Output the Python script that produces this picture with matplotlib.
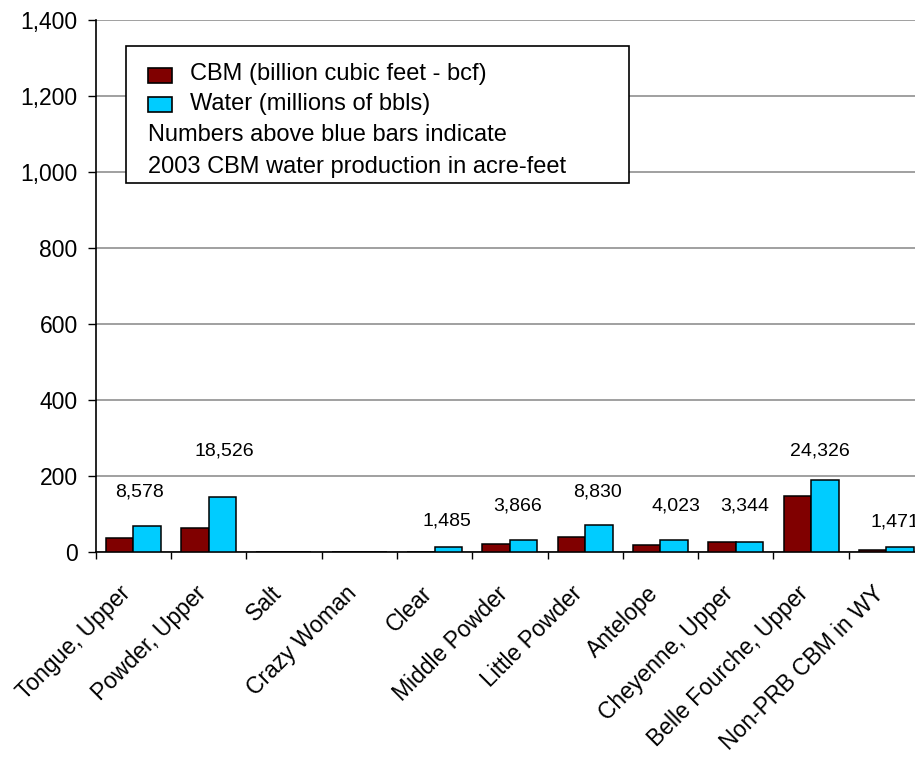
import matplotlib
matplotlib.use("Agg")
import matplotlib.pyplot as plt
from matplotlib.patches import Rectangle
from matplotlib.transforms import ScaledTranslation
import numpy as np

plt.rcParams["font.family"] = ["Liberation Sans", "DejaVu Sans"]

# ----------------------------------------------------------------------
# Data: CBM gas and produced water by drainage
# ----------------------------------------------------------------------
basins = ["Tongue, Upper", "Powder, Upper", "Salt", "Crazy Woman", "Clear",
          "Middle Powder", "Little Powder", "Antelope", "Cheyenne, Upper",
          "Belle Fourche, Upper", "Non-PRB CBM in WY"]
cbm_bcf = [37, 63, 0, 0, 0, 21, 40, 17, 26, 147, 3.5]
water_mmbbl = [68, 145, 0, 0, 12, 31, 69, 32, 26, 190, 12]

# acre-feet notes written above the blue bars (basin index, text)
acre_ft_idx = [0, 1, 4, 5, 6, 7, 8, 9, 10]
acre_ft_txt = ["8,578", "18,526", "1,485", "3,866", "8,830", "4,023",
               "3,344", "24,326", "1,471"]

# where each note sits (x offset from basin centre, height on y scale)
note_dx = [0.08, 0.21, 0.17, 0.10, 0.16, 0.21, 0.12, 0.12, 0.11]
note_y = [158, 264, 80, 120, 157, 120, 120, 264, 77]

CBM_COLOR = "#800000"
WATER_COLOR = "#00CCFF"

W, H = 915, 760
fig = plt.figure(figsize=(W / 100, H / 100), dpi=100)
ax = fig.add_axes([95.7 / W, 1 - 551.7 / H, 828.3 / W, 532 / H])

x = np.arange(len(basins))
bw = 0.365
ax.bar(x - bw / 2, cbm_bcf, bw, color=CBM_COLOR, edgecolor="black",
       linewidth=1.1, zorder=3)
ax.bar(x + bw / 2, water_mmbbl, bw, color=WATER_COLOR, edgecolor="black",
       linewidth=1.1, zorder=3)

for i, txt, dx, yy in zip(acre_ft_idx, acre_ft_txt, note_dx, note_y):
    ax.text(i + dx, yy, txt, ha="center", va="center", fontsize=14,
            zorder=4, clip_on=False)

ax.set_xlim(-0.5, len(basins) - 0.5)
ax.set_ylim(0, 1400)
ax.set_yticks(np.arange(0, 1401, 200))
ax.set_yticklabels([f"{v:,}" for v in range(0, 1401, 200)])
ax.yaxis.grid(True, color="#a0a0a0", linewidth=1.4, zorder=0)
ax.set_axisbelow(True)

ax.set_xticks(x)
ax.set_xticklabels(basins, rotation=45, ha="right", rotation_mode="anchor",
                   fontsize=16.5)
ax.set_xticks(np.arange(-0.5, len(basins)), minor=True)
ax.tick_params(axis="x", which="major", length=0, pad=16)
ax.tick_params(axis="x", which="minor", length=5, width=1, color="black")
ax.tick_params(axis="y", labelsize=16.5, length=6, width=1, pad=7)

# nudge the slanted basin names left and down a little
shift = ScaledTranslation(-14 / 100, -8 / 100, fig.dpi_scale_trans)
for lab in ax.get_xticklabels():
    lab.set_transform(lab.get_transform() + shift)

for side in ("top", "right"):
    ax.spines[side].set_visible(False)
for side in ("left", "bottom"):
    ax.spines[side].set_linewidth(1.2)


def fx(px):
    return px / W


def fy(py):
    return 1 - py / H


# legend box with the note text
box = Rectangle((fx(125.7), fy(182.7)), (629 - 125.7) / W, 137 / H,
                transform=fig.transFigure, facecolor="white",
                edgecolor="black", linewidth=1.2, zorder=5)
fig.add_artist(box)
for top, bot, col in [(67.7, 83.3, CBM_COLOR), (96.7, 111.7, WATER_COLOR)]:
    fig.add_artist(Rectangle((fx(147.7), fy(bot)), 24 / W, (bot - top) / H,
                             transform=fig.transFigure, facecolor=col,
                             edgecolor="black", linewidth=1.2, zorder=6))
fig.text(fx(190), fy(74), "CBM (billion cubic feet - bcf)", fontsize=17,
         va="center", ha="left", zorder=6)
fig.text(fx(190), fy(104), "Water (millions of bbls)", fontsize=17,
         va="center", ha="left", zorder=6)
fig.text(fx(147.7), fy(135), "Numbers above blue bars indicate",
         fontsize=17, va="center", ha="left", zorder=6)
fig.text(fx(147.7), fy(167), "2003 CBM water production in acre-feet",
         fontsize=17, va="center", ha="left", zorder=6)

fig.savefig("out.png", dpi=100)
